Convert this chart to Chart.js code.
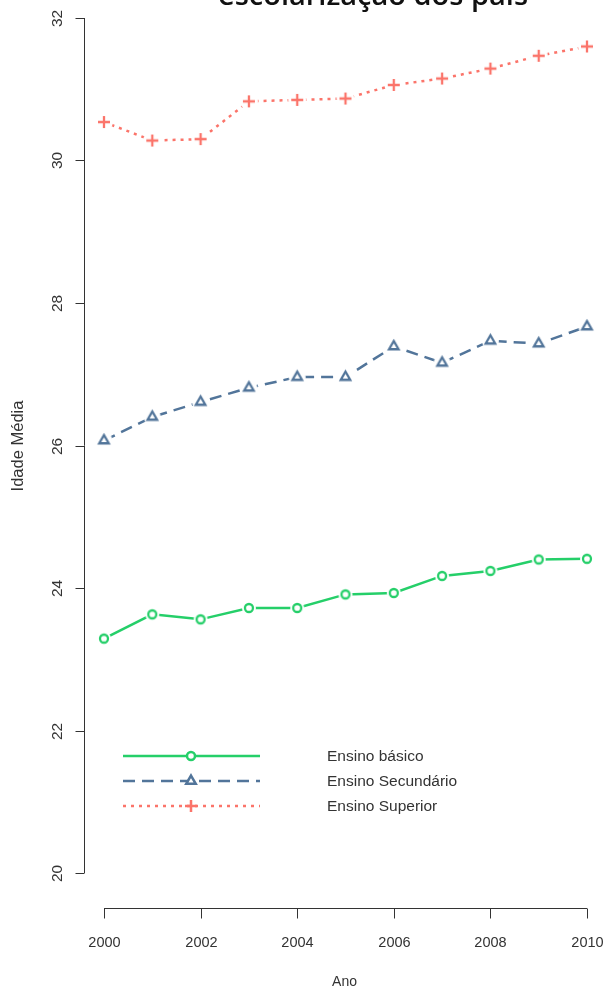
<!DOCTYPE html>
<html>
<head>
<meta charset="utf-8">
<script src="https://cdn.jsdelivr.net/npm/chart.js@4.4.1/dist/chart.umd.min.js"></script>
<style>
  html, body { margin: 0; padding: 0; background: #fff; }
  #wrap { width: 608px; height: 990px; position: relative; }
</style>
</head>
<body>
<div id="wrap"><canvas id="chart"></canvas></div>
<script>
// data
const years = [2000, 2001, 2002, 2003, 2004, 2005, 2006, 2007, 2008, 2009, 2010];
const basico = [23.29, 23.63, 23.56, 23.72, 23.72, 23.91, 23.93, 24.17, 24.24, 24.40, 24.41];
const secundario = [26.07, 26.40, 26.61, 26.81, 26.96, 26.96, 27.39, 27.16, 27.47, 27.43, 27.67];
const superior = [30.54, 30.28, 30.30, 30.83, 30.85, 30.87, 31.06, 31.15, 31.29, 31.47, 31.60];
const seriesNames = ['Ensino básico', 'Ensino Secundário', 'Ensino Superior'];
const xTicks = [2000, 2002, 2004, 2006, 2008, 2010];
const yTicks = [20, 22, 24, 26, 28, 30, 32];
const titleText = 'escolarização dos pais';

const green = '#25cf69';
const blue = '#52759a';
const red = '#fb746a';
const txt = '#333';

function pts(vals) {
  return years.map((yr, i) => ({ x: yr, y: vals[i] }));
}

// marker with a white halo so the line stops short of it (like R type="b")
function marker(style, color, r) {
  const s = Math.ceil((r + 5) * 2);
  const c = document.createElement('canvas');
  c.width = s; c.height = s;
  const g = c.getContext('2d');
  g.fillStyle = '#fff';
  g.beginPath();
  g.arc(s / 2, s / 2, r + 3, 0, Math.PI * 2);
  g.fill();
  g.strokeStyle = color;
  g.lineWidth = 2.3;
  Chart.helpers.drawPoint(g, { pointStyle: style, radius: r, rotation: 0, borderWidth: 2.3 }, s / 2, s / 2);
  return c;
}

// R-style axes, legend and titles
const rStyle = {
  id: 'rStyle',
  afterDraw(chart) {
    const ctx = chart.ctx;
    const xs = chart.scales.x, ys = chart.scales.y;
    const area = chart.chartArea;
    ctx.save();
    ctx.strokeStyle = '#333';
    ctx.fillStyle = txt;
    ctx.lineWidth = 1;
    ctx.setLineDash([]);

    // y axis
    const ax = Math.round(area.left - 20) + 0.5;
    ctx.beginPath();
    ctx.moveTo(ax, ys.getPixelForValue(yTicks[0]));
    ctx.lineTo(ax, ys.getPixelForValue(yTicks[yTicks.length - 1]));
    ctx.stroke();
    ctx.font = '15.5px "Liberation Sans", Arial, sans-serif';
    ctx.textAlign = 'center';
    ctx.textBaseline = 'middle';
    yTicks.forEach(v => {
      const py = Math.round(ys.getPixelForValue(v)) + 0.5;
      ctx.beginPath();
      ctx.moveTo(ax - 9, py);
      ctx.lineTo(ax, py);
      ctx.stroke();
      ctx.save();
      ctx.translate(ax - 27, py);
      ctx.rotate(-Math.PI / 2);
      ctx.fillText(String(v), 0, 0);
      ctx.restore();
    });

    // x axis
    const ay = Math.round(area.bottom + 35) + 0.5;
    ctx.beginPath();
    ctx.moveTo(xs.getPixelForValue(xTicks[0]), ay);
    ctx.lineTo(xs.getPixelForValue(xTicks[xTicks.length - 1]), ay);
    ctx.stroke();
    ctx.font = '14.5px "Liberation Sans", Arial, sans-serif';
    xTicks.forEach(v => {
      const px = Math.round(xs.getPixelForValue(v)) + 0.5;
      ctx.beginPath();
      ctx.moveTo(px, ay);
      ctx.lineTo(px, ay + 10);
      ctx.stroke();
      ctx.fillText(String(v), px, ay + 34);
    });

    // axis titles
    ctx.font = '14px "Liberation Sans", Arial, sans-serif';
    ctx.fillText('Ano', (area.left + area.right) / 2 - 1, 982);
    ctx.save();
    ctx.translate(18, 446);
    ctx.rotate(-Math.PI / 2);
    ctx.font = '16.5px "Liberation Sans", Arial, sans-serif';
    ctx.fillText('Idade Média', 0, 0);
    ctx.restore();

    // title (only its lower part shows)
    ctx.font = '600 29px "Open Sans", "Noto Sans", sans-serif';
    ctx.textBaseline = 'alphabetic';
    ctx.fillStyle = '#111';
    ctx.fillText(titleText, 373, 5);

    // legend
    const rows = [
      { color: green, dash: [], style: 'circle', r: 4 },
      { color: blue, dash: [12, 7], style: 'triangle', r: 5.5 },
      { color: red, dash: [3, 5], style: 'cross', r: 6 }
    ];
    ctx.font = '15.5px "Liberation Sans", Arial, sans-serif';
    ctx.textAlign = 'left';
    ctx.textBaseline = 'middle';
    rows.forEach((row, i) => {
      const ly = 756 + i * 25;
      ctx.strokeStyle = row.color;
      ctx.lineWidth = 2.5;
      ctx.setLineDash(row.dash);
      ctx.beginPath();
      ctx.moveTo(123, ly);
      ctx.lineTo(260, ly);
      ctx.stroke();
      ctx.setLineDash([]);
      ctx.fillStyle = '#fff';
      Chart.helpers.drawPoint(ctx, { pointStyle: row.style, radius: row.r, rotation: 0, borderWidth: 2.3 }, 191, ly);
      ctx.fillStyle = txt;
      ctx.fillText(seriesNames[i], 327, ly + 1);
    });
    ctx.restore();
  }
};

const common = { borderWidth: 2.5, tension: 0, clip: false };

new Chart(document.getElementById('chart').getContext('2d'), {
  type: 'line',
  data: {
    datasets: [
      Object.assign({ label: seriesNames[0], data: pts(basico), borderColor: green,
        pointStyle: marker('circle', green, 4) }, common),
      Object.assign({ label: seriesNames[1], data: pts(secundario), borderColor: blue,
        borderDash: [12, 7], pointStyle: marker('triangle', blue, 5.5) }, common),
      Object.assign({ label: seriesNames[2], data: pts(superior), borderColor: red,
        borderDash: [3, 5], pointStyle: marker('cross', red, 6) }, common)
    ]
  },
  options: {
    responsive: true,
    maintainAspectRatio: false,
    animation: false,
    layout: { padding: { left: 104, right: 21, top: 18, bottom: 117 } },
    plugins: { legend: { display: false }, title: { display: false }, tooltip: { enabled: false } },
    scales: {
      x: { type: 'linear', min: 2000, max: 2010, display: false },
      y: { min: 20, max: 32, display: false }
    }
  },
  plugins: [rStyle]
});
</script>
</body>
</html>
